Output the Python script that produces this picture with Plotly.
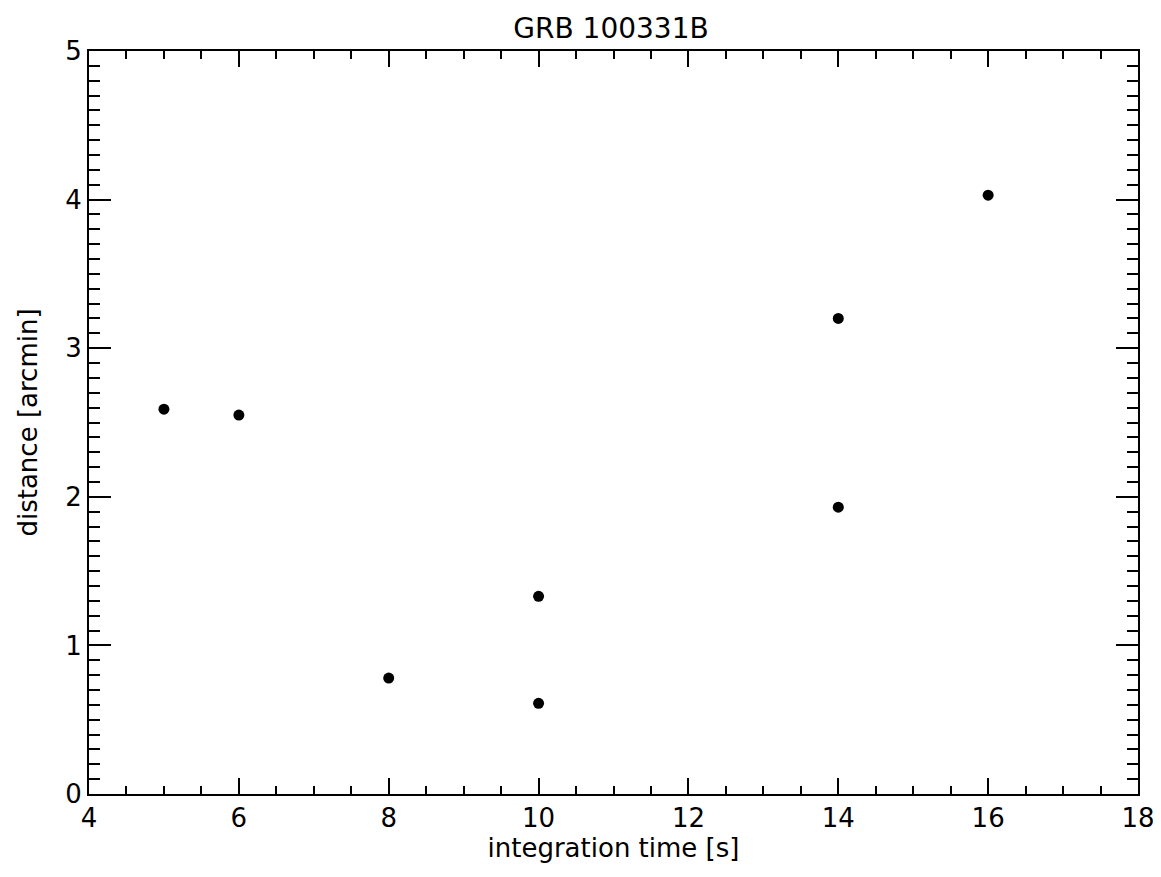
import plotly.graph_objects as go

# Data
integration_time = [5, 6, 8, 10, 10, 14, 14, 16]
distance = [2.59, 2.55, 0.78, 1.33, 0.61, 3.20, 1.93, 4.03]

title_text = "GRB 100331B"
x_title = "integration time [s]"
y_title = "distance [arcmin]"

FONT = "DejaVu Sans"

fig = go.Figure()
fig.add_trace(go.Scatter(
    x=integration_time, y=distance, mode="markers",
    marker=dict(color="black", size=11, symbol="circle"),
    showlegend=False,
))

axis_common = dict(
    showgrid=False, zeroline=False,
    showline=True, linecolor="black", linewidth=2,
    mirror="allticks", ticks="inside", tickcolor="black", tickwidth=1.5,
    tickfont=dict(family=FONT, size=26, color="black"),
)

fig.update_xaxes(
    range=[4, 18], tick0=4, dtick=2, ticklen=16,
    minor=dict(ticks="inside", dtick=0.5, ticklen=8, tickcolor="black", tickwidth=1.5),
    title=dict(text=x_title, font=dict(family=FONT, size=26, color="black"), standoff=6),
    **axis_common,
)
fig.update_yaxes(
    range=[0, 5], tick0=0, dtick=1, ticklen=22,
    minor=dict(ticks="inside", dtick=0.1, ticklen=11, tickcolor="black", tickwidth=1.5),
    title=dict(text=y_title, font=dict(family=FONT, size=26, color="black"), standoff=20),
    **axis_common,
)

# page body has an 8px margin, so the figure is sized to fit the 1161x877 window
fig.update_layout(
    width=1153, height=869,
    margin=dict(l=81, r=23, t=43, b=83, autoexpand=False),
    paper_bgcolor="white", plot_bgcolor="white",
    title=dict(text=title_text, x=0.523, xanchor="center", y=0.977, yanchor="middle",
               yref="container",
               font=dict(family=FONT, size=28, color="black")),
)

fig.write_html("out.html")
